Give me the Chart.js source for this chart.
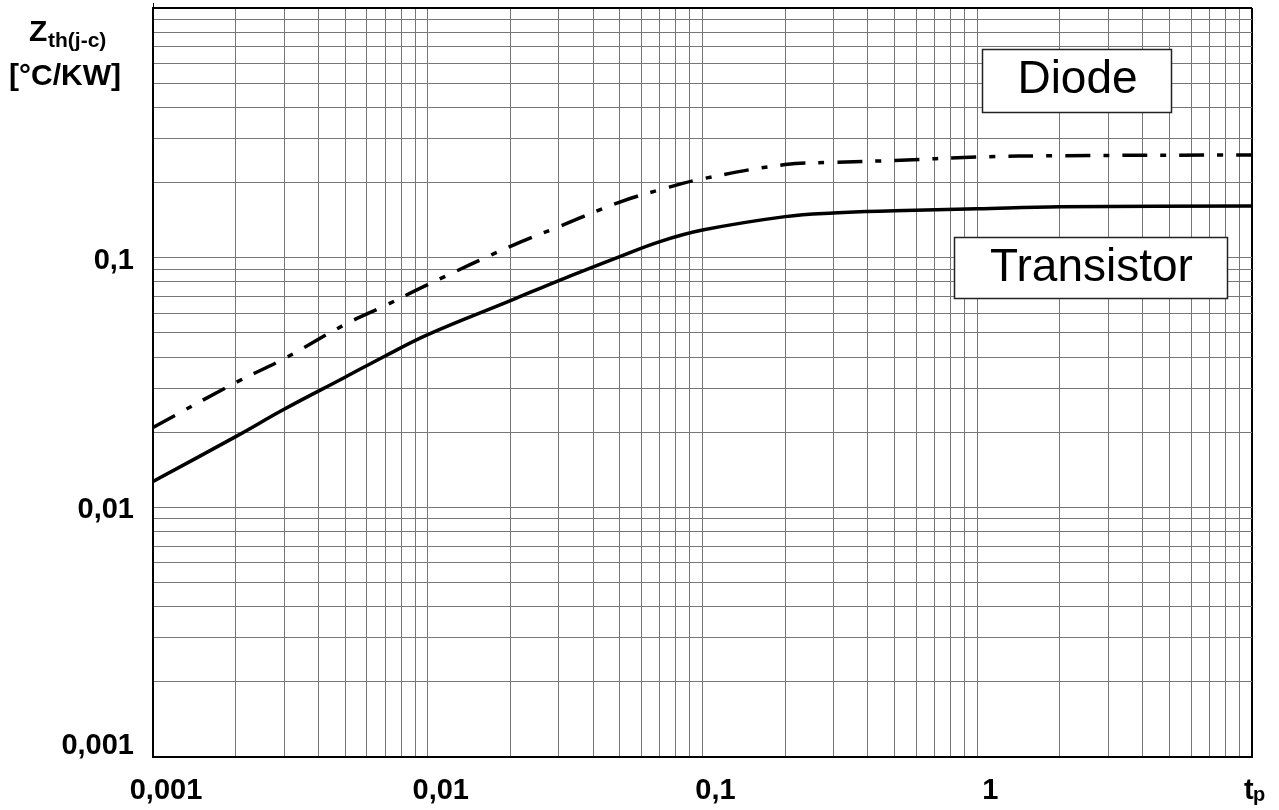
<!DOCTYPE html>
<html>
<head>
<meta charset="utf-8">
<script src="https://cdn.jsdelivr.net/npm/chart.js@4.4.1/dist/chart.umd.min.js"></script>
<style>
  html, body { margin: 0; padding: 0; background: #fff; }
  #wrap { width: 1279px; height: 810px; }
</style>
</head>
<body>
<div id="wrap"><canvas id="zth"></canvas></div>
<script>
// pulse duration t_p [s]
const tp = [0.001, 0.002, 0.003, 0.005, 0.007, 0.01, 0.02, 0.03, 0.05, 0.07, 0.1, 0.2, 0.3, 0.5, 1, 2, 10];
// Zth(j-c) [°C/KW]
const zthTransistor = [0.0127, 0.0192, 0.0247, 0.0332, 0.0404, 0.0492, 0.0673, 0.0810, 0.101, 0.116, 0.129, 0.146, 0.151, 0.154, 0.157, 0.160, 0.161];
const zthDiode = [0.0209, 0.0316, 0.0394, 0.0540, 0.0643, 0.0780, 0.111, 0.133, 0.167, 0.187, 0.207, 0.236, 0.241, 0.245, 0.253, 0.256, 0.258];

const xLabels = [[0.001, '0,001'], [0.01, '0,01'], [0.1, '0,1'], [1, '1']];
const yLabels = [[0.1, '0,1'], [0.01, '0,01'], [0.001, '0,001']];

// 1..9 for each decade, plus the end value
function logGrid(from, to) {
    const out = [];
    for (let d = from; d < to * 0.999; d *= 10) {
        for (let m = 1; m <= 9; m++) out.push(+(m * d).toPrecision(3));
    }
    out.push(to);
    return out;
}
const xGrid = logGrid(0.001, 10);
const yGrid = logGrid(0.001, 1);

const BOLD = 'bold 29px "Liberation Sans", Arial, sans-serif';

const labelsPlugin = {
    id: 'labels',
    afterDraw(chart) {
        const c = chart.ctx;
        const xs = chart.scales.x, ys = chart.scales.y;
        c.save();
        c.fillStyle = '#000';
        c.font = BOLD;
        // x tick labels
        c.textAlign = 'center';
        c.textBaseline = 'alphabetic';
        xLabels.forEach(([v, t]) => c.fillText(t, xs.getPixelForValue(v) + 13, 799));
        // t_p
        c.textAlign = 'left';
        c.fillText('t', 1244, 799);
        c.font = 'bold 20px "Liberation Sans", Arial, sans-serif';
        c.fillText('p', 1253, 801);
        // y tick labels
        c.font = BOLD;
        c.textAlign = 'right';
        c.textBaseline = 'middle';
        yLabels.forEach(([v, t]) => {
            let py = ys.getPixelForValue(v) + 3;
            if (py > 746) py = 746;
            c.fillText(t, 134, py);
        });
        // y title
        c.textBaseline = 'alphabetic';
        c.textAlign = 'left';
        c.font = 'bold 30px "Liberation Sans", Arial, sans-serif';
        c.fillText('Z', 29, 41);
        c.font = 'bold 21px "Liberation Sans", Arial, sans-serif';
        c.fillText('th(j-c)', 48, 47);
        c.font = 'bold 30px "Liberation Sans", Arial, sans-serif';
        c.fillText('[°C/KW]', 9, 85);

        // curve name boxes
        const boxes = [
            { text: 'Diode', x: 982, y: 49, w: 189, h: 63, base: 93 },
            { text: 'Transistor', x: 954, y: 237, w: 273, h: 61, base: 281 }
        ];
        c.font = '46px "Liberation Sans", Arial, sans-serif';
        c.textAlign = 'center';
        boxes.forEach(b => {
            c.fillStyle = '#fff';
            c.fillRect(b.x, b.y, b.w, b.h);
            c.strokeStyle = '#222';
            c.lineWidth = 1.5;
            c.strokeRect(b.x + 0.5, b.y + 0.5, b.w, b.h);
            c.fillStyle = '#000';
            c.fillText(b.text, b.x + b.w / 2 + 1, b.base);
        });
        // short overhang of the left axis above the frame
        c.strokeStyle = '#000';
        c.lineWidth = 1;
        c.beginPath();
        c.moveTo(xs.left + 0.5, ys.top - 5);
        c.lineTo(xs.left + 0.5, ys.top);
        c.stroke();
        c.restore();
    }
};

new Chart(document.getElementById('zth'), {
    type: 'line',
    data: {
        datasets: [
            {
                label: 'Diode',
                data: tp.map((t, i) => ({ x: t, y: zthDiode[i] })),
                borderColor: '#000',
                borderWidth: 3.5,
                borderDash: [25, 13, 6, 13],
                borderCapStyle: 'butt',
                pointRadius: 0,
                tension: 0.4
            },
            {
                label: 'Transistor',
                data: tp.map((t, i) => ({ x: t, y: zthTransistor[i] })),
                borderColor: '#000',
                borderWidth: 3.5,
                pointRadius: 0,
                tension: 0.4
            }
        ]
    },
    options: {
        responsive: true,
        maintainAspectRatio: false,
        animation: false,
        layout: { padding: { top: 8, right: 27, left: 0, bottom: 0 } },
        plugins: { legend: { display: false }, tooltip: { enabled: false } },
        scales: {
            x: {
                type: 'logarithmic',
                min: 0.001, max: 10,
                afterBuildTicks: s => { s.ticks = xGrid.map(v => ({ value: v })); },
                afterFit: s => { s.height = 53; },
                ticks: { display: false },
                grid: {
                    drawTicks: false,
                    color: ctx => ctx.tick && ctx.tick.value === 10 ? '#000' : '#777',
                    lineWidth: ctx => ctx.tick && ctx.tick.value === 10 ? 2 : 1
                },
                border: { color: '#000', width: 2 }
            },
            y: {
                type: 'logarithmic',
                min: 0.001, max: 1,
                afterBuildTicks: s => { s.ticks = yGrid.map(v => ({ value: v })); },
                afterFit: s => { s.width = 153; },
                ticks: { display: false },
                grid: {
                    drawTicks: false,
                    color: ctx => ctx.tick && ctx.tick.value === 1 ? '#000' : '#777',
                    lineWidth: ctx => ctx.tick && ctx.tick.value === 1 ? 2 : 1
                },
                border: { color: '#000', width: 2 }
            }
        }
    },
    plugins: [labelsPlugin]
});
</script>
</body>
</html>
